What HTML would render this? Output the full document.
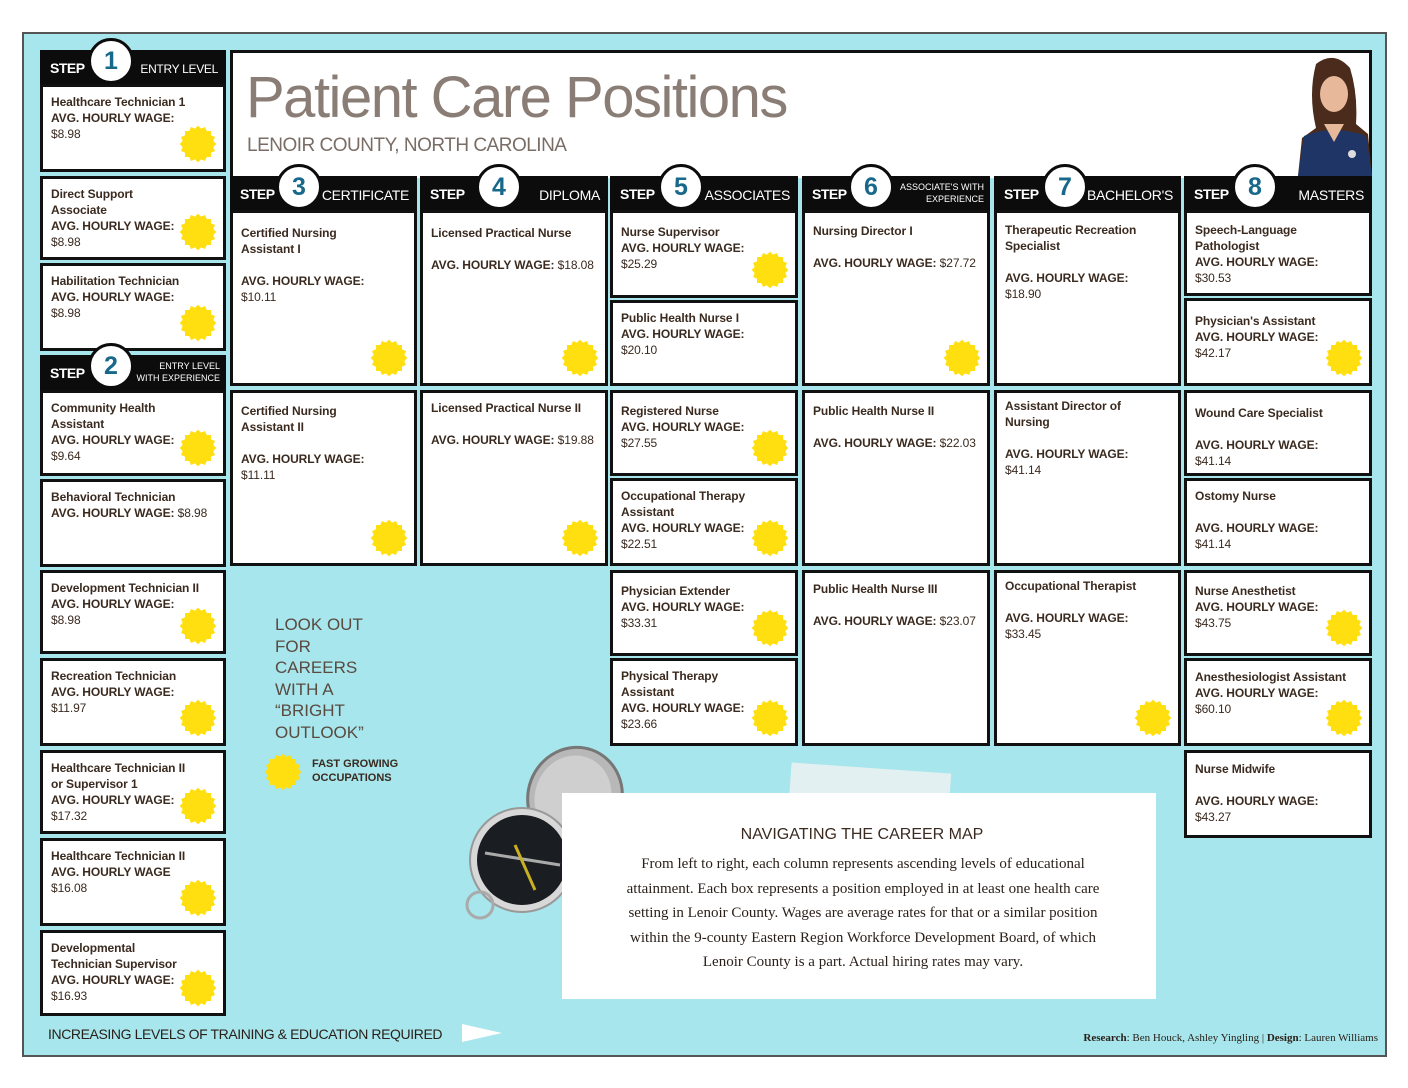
<!DOCTYPE html>
<html><head><meta charset="utf-8"><style>
*{margin:0;padding:0;box-sizing:border-box}
body{width:1408px;height:1088px;background:#fff;position:relative;overflow:hidden;font-family:"Liberation Sans",sans-serif;color:#3a2a1f}
#frame{position:absolute;left:22px;top:32px;width:1365px;height:1025px;background:#a6e6ec;border:2px solid #555}
.b{position:absolute;background:#fff;border:3px solid #111;padding:7px 8px;font-size:12px;font-weight:bold;line-height:16px;letter-spacing:-0.1px}
.b span{font-weight:normal}
.h{position:absolute;background:#0c0c0c;color:#fff;height:36px}
.h .st{position:absolute;left:10px;top:10px;font-weight:bold;font-size:14px;letter-spacing:-0.5px}
.h .lv{position:absolute;right:8px;top:11px;font-size:14px;letter-spacing:-0.3px}
.h .lv2{position:absolute;right:6px;top:5px;font-size:9px;line-height:12px;text-align:right}
.c{position:absolute;top:-12px;width:46px;height:46px;border-radius:50%;background:#fff;border:3px solid #0c0c0c;color:#17688a;font-weight:bold;font-size:25px;text-align:center;line-height:40px}
.sun{position:absolute;right:6px;bottom:6px;width:38px;height:38px}
</style></head><body>
<svg width="0" height="0" style="position:absolute"><defs><symbol id="s" viewBox="0 0 38 38"><g fill="#ffdf0f" transform="translate(19 19)"><circle r="14"/><rect x="-13" y="-13" width="26" height="26"/><rect x="-13" y="-13" width="26" height="26" transform="rotate(22.5)"/><rect x="-13" y="-13" width="26" height="26" transform="rotate(45)"/><rect x="-13" y="-13" width="26" height="26" transform="rotate(67.5)"/></g></symbol></defs></svg>
<div id="frame"></div>

<div style="position:absolute;left:230px;top:50px;width:1142px;height:128px;background:#fff;border:3px solid #111;border-bottom:none"></div>
<div style="position:absolute;left:246px;top:64px;font-size:58px;color:#8a7d75;letter-spacing:-1.5px">Patient Care Positions</div>
<div style="position:absolute;left:247px;top:135px;font-size:19px;color:#7a6d65;letter-spacing:-0.5px">LENOIR COUNTY, NORTH CAROLINA</div>
<svg style="position:absolute;left:1294px;top:54px" width="78" height="122">
<path d="M22 10 Q40 -4 56 14 Q64 40 62 70 L74 80 L78 122 L4 122 L8 84 L22 74 Q14 40 22 10Z" fill="#4a2b1c"/>
<ellipse cx="40" cy="40" rx="14" ry="18" fill="#e8b89a"/>
<path d="M10 82 Q40 70 72 82 L78 122 L4 122Z" fill="#1e3566"/>
<path d="M30 70 L40 88 L50 70Z" fill="#e8b89a"/>
<circle cx="58" cy="100" r="4" fill="#ddd"/>
</svg>

<div class="h" style="left:40px;top:50px;width:186px"><span class="st">STEP</span><div class="c" style="left:48px">1</div><span class="lv" style="font-size:12px;top:12px">ENTRY LEVEL</span></div>
<div class="b" style="left:40px;top:84px;width:186px;height:88px">Healthcare Technician 1<br>AVG. HOURLY WAGE:<br><span>$8.98</span><svg class="sun"><use href="#s"/></svg></div>
<div class="b" style="left:40px;top:176px;width:186px;height:84px">Direct Support<br>Associate<br>AVG. HOURLY WAGE:<br><span>$8.98</span><svg class="sun"><use href="#s"/></svg></div>
<div class="b" style="left:40px;top:263px;width:186px;height:88px">Habilitation Technician<br>AVG. HOURLY WAGE:<br><span>$8.98</span><svg class="sun"><use href="#s"/></svg></div>
<div class="h" style="left:40px;top:355px;width:186px"><span class="st">STEP</span><div class="c" style="left:48px">2</div><span class="lv2">ENTRY LEVEL<br>WITH EXPERIENCE</span></div>
<div class="b" style="left:40px;top:390px;width:186px;height:86px">Community Health<br>Assistant<br>AVG. HOURLY WAGE:<br><span>$9.64</span><svg class="sun"><use href="#s"/></svg></div>
<div class="b" style="left:40px;top:479px;width:186px;height:88px">Behavioral Technician<br>AVG. HOURLY WAGE: <span>$8.98</span></div>
<div class="b" style="left:40px;top:570px;width:186px;height:84px">Development Technician II<br>AVG. HOURLY WAGE:<br><span>$8.98</span><svg class="sun"><use href="#s"/></svg></div>
<div class="b" style="left:40px;top:658px;width:186px;height:88px">Recreation Technician<br>AVG. HOURLY WAGE:<br><span>$11.97</span><svg class="sun"><use href="#s"/></svg></div>
<div class="b" style="left:40px;top:750px;width:186px;height:84px">Healthcare Technician II<br>or Supervisor 1<br>AVG. HOURLY WAGE:<br><span>$17.32</span><svg class="sun"><use href="#s"/></svg></div>
<div class="b" style="left:40px;top:838px;width:186px;height:88px">Healthcare Technician II<br>AVG. HOURLY WAGE<br><span>$16.08</span><svg class="sun"><use href="#s"/></svg></div>
<div class="b" style="left:40px;top:930px;width:186px;height:86px">Developmental<br>Technician Supervisor<br>AVG. HOURLY WAGE:<br><span>$16.93</span><svg class="sun"><use href="#s"/></svg></div>

<div class="h" style="left:230px;top:176px;width:187px"><span class="st">STEP</span><div class="c" style="left:46px">3</div><span class="lv">CERTIFICATE</span></div>
<div class="b" style="left:230px;top:210px;width:187px;height:176px;padding-top:12px">Certified Nursing<br>Assistant I<br><br>AVG. HOURLY WAGE:<br><span>$10.11</span><svg class="sun"><use href="#s"/></svg></div>
<div class="b" style="left:230px;top:390px;width:187px;height:176px;padding-top:10px">Certified Nursing<br>Assistant II<br><br>AVG. HOURLY WAGE:<br><span>$11.11</span><svg class="sun"><use href="#s"/></svg></div>
<div class="h" style="left:420px;top:176px;width:188px"><span class="st">STEP</span><div class="c" style="left:56px">4</div><span class="lv">DIPLOMA</span></div>
<div class="b" style="left:420px;top:210px;width:188px;height:176px;padding-top:12px">Licensed Practical Nurse<br><br>AVG. HOURLY WAGE: <span>$18.08</span><svg class="sun"><use href="#s"/></svg></div>
<div class="b" style="left:420px;top:390px;width:188px;height:176px">Licensed Practical Nurse II<br><br>AVG. HOURLY WAGE: <span>$19.88</span><svg class="sun"><use href="#s"/></svg></div>
<div class="h" style="left:610px;top:176px;width:188px"><span class="st">STEP</span><div class="c" style="left:48px">5</div><span class="lv">ASSOCIATES</span></div>
<div class="b" style="left:610px;top:210px;width:188px;height:88px;padding-top:11px">Nurse Supervisor<br>AVG. HOURLY WAGE:<br><span>$25.29</span><svg class="sun"><use href="#s"/></svg></div>
<div class="b" style="left:610px;top:300px;width:188px;height:86px">Public Health Nurse I<br>AVG. HOURLY WAGE:<br><span>$20.10</span></div>
<div class="b" style="left:610px;top:390px;width:188px;height:86px;padding-top:10px">Registered Nurse<br>AVG. HOURLY WAGE:<br><span>$27.55</span><svg class="sun"><use href="#s"/></svg></div>
<div class="b" style="left:610px;top:478px;width:188px;height:88px">Occupational Therapy<br>Assistant<br>AVG. HOURLY WAGE:<br><span>$22.51</span><svg class="sun"><use href="#s"/></svg></div>
<div class="b" style="left:610px;top:570px;width:188px;height:86px;padding-top:10px">Physician Extender<br>AVG. HOURLY WAGE:<br><span>$33.31</span><svg class="sun"><use href="#s"/></svg></div>
<div class="b" style="left:610px;top:658px;width:188px;height:88px">Physical Therapy<br>Assistant<br>AVG. HOURLY WAGE:<br><span>$23.66</span><svg class="sun"><use href="#s"/></svg></div>
<div class="h" style="left:802px;top:176px;width:188px"><span class="st">STEP</span><div class="c" style="left:46px">6</div><span class="lv2">ASSOCIATE'S WITH<br>EXPERIENCE</span></div>
<div class="b" style="left:802px;top:210px;width:188px;height:176px;padding-top:10px">Nursing Director I<br><br>AVG. HOURLY WAGE: <span>$27.72</span><svg class="sun"><use href="#s"/></svg></div>
<div class="b" style="left:802px;top:390px;width:188px;height:176px;padding-top:10px">Public Health Nurse II<br><br>AVG. HOURLY WAGE: <span>$22.03</span></div>
<div class="b" style="left:802px;top:570px;width:188px;height:176px;padding-top:8px">Public Health Nurse III<br><br>AVG. HOURLY WAGE: <span>$23.07</span></div>
<div class="h" style="left:994px;top:176px;width:187px"><span class="st">STEP</span><div class="c" style="left:48px">7</div><span class="lv">BACHELOR'S</span></div>
<div class="b" style="left:994px;top:210px;width:187px;height:176px;padding-top:9px">Therapeutic Recreation<br>Specialist<br><br>AVG. HOURLY WAGE:<br><span>$18.90</span></div>
<div class="b" style="left:994px;top:390px;width:187px;height:176px;padding-top:5px">Assistant Director of<br>Nursing<br><br>AVG. HOURLY WAGE:<br><span>$41.14</span></div>
<div class="b" style="left:994px;top:570px;width:187px;height:176px;padding-top:5px">Occupational Therapist<br><br>AVG. HOURLY WAGE:<br><span>$33.45</span><svg class="sun"><use href="#s"/></svg></div>
<div class="h" style="left:1184px;top:176px;width:188px"><span class="st">STEP</span><div class="c" style="left:48px">8</div><span class="lv">MASTERS</span></div>
<div class="b" style="left:1184px;top:210px;width:188px;height:86px;padding-top:9px">Speech-Language<br>Pathologist<br>AVG. HOURLY WAGE:<br><span>$30.53</span></div>
<div class="b" style="left:1184px;top:298px;width:188px;height:88px;padding-top:12px">Physician's Assistant<br>AVG. HOURLY WAGE:<br><span>$42.17</span><svg class="sun"><use href="#s"/></svg></div>
<div class="b" style="left:1184px;top:390px;width:188px;height:86px;padding-top:12px">Wound Care Specialist<br><br>AVG. HOURLY WAGE:<br><span>$41.14</span></div>
<div class="b" style="left:1184px;top:478px;width:188px;height:88px">Ostomy Nurse<br><br>AVG. HOURLY WAGE:<br><span>$41.14</span></div>
<div class="b" style="left:1184px;top:570px;width:188px;height:86px;padding-top:10px">Nurse Anesthetist<br>AVG. HOURLY WAGE:<br><span>$43.75</span><svg class="sun"><use href="#s"/></svg></div>
<div class="b" style="left:1184px;top:658px;width:188px;height:88px;padding-top:8px">Anesthesiologist Assistant<br>AVG. HOURLY WAGE:<br><span>$60.10</span><svg class="sun"><use href="#s"/></svg></div>
<div class="b" style="left:1184px;top:750px;width:188px;height:88px;padding-top:8px">Nurse Midwife<br><br>AVG. HOURLY WAGE:<br><span>$43.27</span></div>

<div style="position:absolute;left:275px;top:614px;font-size:17px;line-height:21.5px;color:#5a4a40">LOOK OUT<br>FOR<br>CAREERS<br>WITH A<br>“BRIGHT<br>OUTLOOK”</div>
<svg style="position:absolute;left:264px;top:753px" width="38" height="38"><use href="#s"/></svg>
<div style="position:absolute;left:312px;top:757px;font-size:11px;font-weight:bold;line-height:14px;color:#3a2a1f">FAST GROWING<br>OCCUPATIONS</div>

<svg style="position:absolute;left:455px;top:745px" width="175" height="185">
<ellipse cx="120" cy="52" rx="47" ry="50" fill="#b8b8b8" stroke="#777" stroke-width="3" transform="rotate(20 120 52)"/>
<ellipse cx="118" cy="52" rx="38" ry="42" fill="#cfcfcf" transform="rotate(20 118 52)"/>
<circle cx="67" cy="115" r="52" fill="#d8d8d8" stroke="#999" stroke-width="2"/>
<circle cx="67" cy="115" r="45" fill="#1a1d22"/>
<line x1="30" y1="108" x2="105" y2="120" stroke="#aaa" stroke-width="3"/>
<line x1="60" y1="100" x2="80" y2="145" stroke="#c8b020" stroke-width="3"/>
<circle cx="25" cy="160" r="13" fill="none" stroke="#aaa" stroke-width="3"/>
</svg>
<div style="position:absolute;left:790px;top:768px;width:160px;height:40px;background:#f2f2f2;transform:rotate(4deg);opacity:.8"></div>
<div style="position:absolute;left:562px;top:793px;width:594px;height:206px;background:#fff"></div>
<div style="position:absolute;left:562px;top:826px;width:600px;text-align:center;font-size:16px;color:#3a2a1f">NAVIGATING THE CAREER MAP</div>
<div style="position:absolute;left:570px;top:852px;width:586px;text-align:center;font-family:'Liberation Serif',serif;font-size:15px;line-height:24.5px;color:#2a1f18">From left to right, each column represents ascending levels of educational<br>attainment. Each box represents a position employed in at least one health care<br>setting in Lenoir County. Wages are average rates for that or a similar position<br>within the 9-county Eastern Region Workforce Development Board, of which<br>Lenoir County is a part. Actual hiring rates may vary.</div>

<div style="position:absolute;left:48px;top:1026px;font-size:14px;color:#2a1f18;letter-spacing:-0.4px">INCREASING LEVELS OF TRAINING &amp; EDUCATION REQUIRED</div>
<svg style="position:absolute;left:462px;top:1024px" width="40" height="18"><polygon points="0,0 40,9 0,18" fill="#fff"/></svg>
<div style="position:absolute;right:30px;top:1032px;font-family:'Liberation Serif',serif;font-size:11px;color:#2a1f18"><b>Research</b>: Ben Houck, Ashley Yingling | <b>Design</b>: Lauren Williams</div>
</body></html>
